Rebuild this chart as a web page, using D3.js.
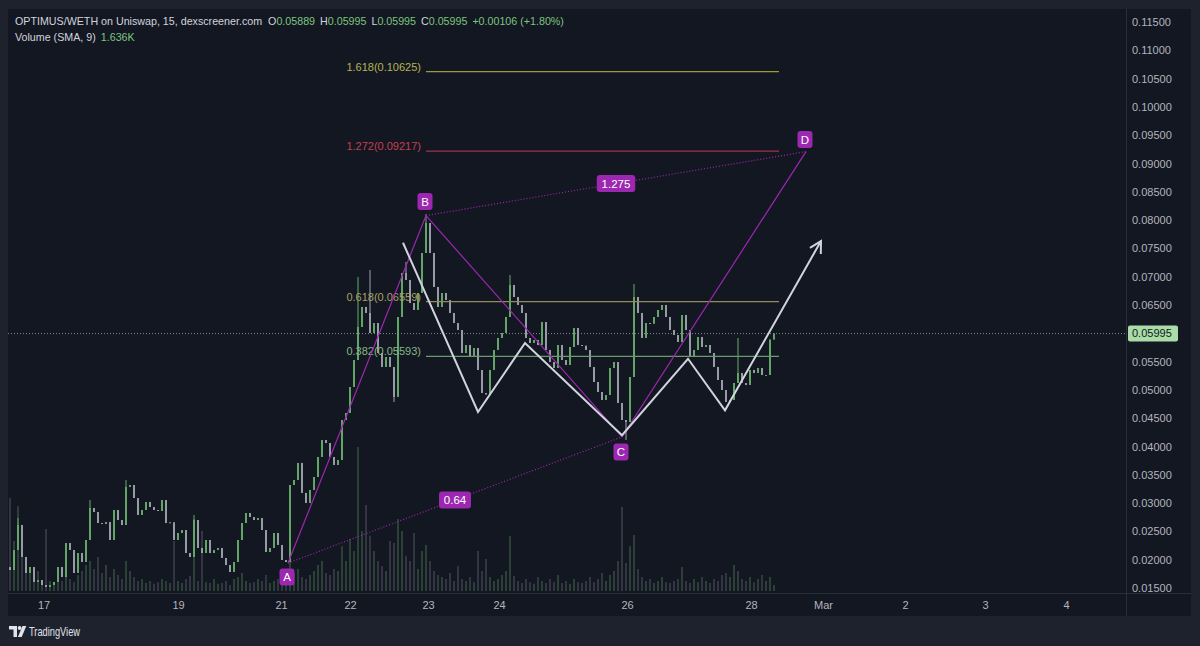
<!DOCTYPE html>
<html><head><meta charset="utf-8">
<script src="https://cdn.jsdelivr.net/npm/d3@7"></script>
<style>body{margin:0;background:#1e222d;overflow:hidden}svg{display:block}</style>
</head><body>
<svg id="c" width="1200" height="646"></svg>
<script>
// ---------- DATA ----------
const firstOpen = 0.01870;
const closes = [0.01818,0.02171,0.02613,0.02048,0.01765,0.01871,0.01606,0.01641,0.01553,0.01518,
 0.01553,0.01606,0.01871,0.01694,0.02295,0.02171,0.01765,0.02118,0.01959,0.02348,
 0.02913,0.02843,0.02648,0.02630,0.02666,0.02348,0.02878,0.02701,0.02613,0.03285,
 0.03320,0.03090,0.02790,0.02878,0.03020,0.02931,0.02878,0.02860,0.03055,0.02648,
 0.02660,0.02348,0.02472,0.02525,0.02118,0.02048,0.02701,0.02207,0.02118,0.02348,
 0.02118,0.02171,0.02207,0.02030,0.01906,0.01783,0.01959,0.02348,0.02648,0.02825,
 0.02754,0.02701,0.02737,0.02525,0.02136,0.02207,0.02472,0.02260,0.01995,0.01959,
 0.03320,0.03408,0.03709,0.03179,0.03002,0.03232,0.03461,0.03815,0.04115,0.04062,
 0.03815,0.03673,0.03762,0.04468,0.04592,0.05051,0.05528,0.06111,0.06465,0.06359,
 0.06005,0.06182,0.05652,0.05405,0.05581,0.05405,0.04875,0.06288,0.07065,0.06942,
 0.06535,0.06412,0.06712,0.07419,0.07949,0.07419,0.06818,0.06465,0.06712,0.06588,
 0.06359,0.06182,0.06058,0.05652,0.05793,0.05581,0.05740,0.05352,0.04945,0.04920,
 0.05352,0.05705,0.05917,0.06005,0.06288,0.06853,0.06641,0.06500,0.06359,0.05917,
 0.05829,0.05882,0.05793,0.06200,0.05705,0.05493,0.05387,0.05793,0.05528,0.05440,
 0.05758,0.06094,0.05793,0.05780,0.05705,0.05405,0.05140,0.04963,0.04822,0.04910,
 0.05387,0.05493,0.04769,0.04468,0.04433,0.05228,0.06641,0.06359,0.05917,0.06182,
 0.06170,0.06288,0.06412,0.06500,0.06288,0.06058,0.05970,0.05846,0.06323,0.06058,
 0.05581,0.05705,0.05935,0.05758,0.05793,0.05652,0.05405,0.05175,0.04998,0.04786,
 0.04822,0.05122,0.05299,0.05122,0.05087,0.05352,0.05299,0.05387,0.05263,0.05263,
 0.05889,0.05995];
const volumes = [23.3,12.5,21.2,8.8,6.2,4.5,3,5,2.5,15.5,
 2.5,2,3.5,2.5,4.5,3,2.2,4,5,6.5,
 7.5,5.5,8.5,4.5,6.5,3.5,5.5,4,3,7.5,
 5,3.5,2.5,3,2,2.5,1.8,2.2,3,2.5,
 2,12.5,2.5,2,3,3.8,18,2.5,15,2.2,
 2,3,1.8,2,2.5,1.5,3,3.5,4.5,2.5,
 2,2.2,3,2.5,4,2,2.5,3,2.2,3.5,
 7.5,4.5,5.5,3.5,3,4,5,6.5,7.5,4.5,
 4,5.5,5,11.2,7.5,13,10,36,15,21.5,
 13.8,10,7.5,6.2,5,12.5,12,18,15,8.8,
 7.5,14.5,5.5,10,11.5,7.5,5,4,3.5,3,
 4.5,2.5,6.2,3,2.5,3.5,2.2,10,5,8,
 3.5,2.5,3,4,5,13.8,3.8,2.5,2,3,
 2.2,1.8,3.5,2.5,2,3,2.2,4,2,2.5,
 1.8,3,2.2,2,2.5,3.5,2.2,3,4.5,2.5,
 4,5,7.5,21,7,11.2,14,5.5,3.5,2.5,
 3,2,2.5,3.5,2.2,2,2.5,3,6,2.5,
 2,3,2.2,3.5,2.5,2,3,2.5,4,4.5,
 3.5,6.5,5,3,2.5,3.5,2.2,3,4,2.5,
 3.5,1.5];
const wickIdx  = [2,20,29,46,87,90,96,99,104,125,154,156,182];
const wickHigh = [0.02737,0.03055,0.03408,0.02790,0.06995,0.07118,null,0.07260,0.08108,0.07030,null,0.06871,0.05917];
const wickLow  = [null,null,null,null,null,null,0.04786,null,null,null,0.04115,null,null];

const priceTicks = [0.115,0.11,0.105,0.10,0.095,0.09,0.085,0.08,0.075,0.07,0.065,0.055,0.05,0.045,0.04,0.035,0.03,0.025,0.02,0.015];
const dayLabels = ["17","19","21","22","23","24","26","28","Mar","2","3","4"];
const dayIdx    = [8.4,42,67.75,85,104.5,122.25,154.25,185.25,203.25,223.75,243.75,264];
const lastIndex = 279;   // right edge of visible bar space (incl. empty future bars)

const fibLabels = ["1.618(0.10625)","1.272(0.09217)","0.618(0.06559)","0.382(0.05593)"];
const fibPrices = [0.10625,0.09217,0.06559,0.05593];
const fibStartIdx = 104, fibEndIdx = 192.25;

const patternNames = ["A","B","C","D"];
const patternIdx   = [69.5,104,153,199];
const patternPrice = [0.0194,0.0808,0.0417,0.0921];
const ratioLabels  = ["0.64","1.275"];   // A->C, B->D

const zigIdx   = [98.25,117,128.75,153,169.5,178.75,202.75];
const zigPrice = [0.0760,0.0461,0.0583,0.0420,0.0555,0.0464,0.0763];

const lastPrice = 0.05995;
const symbolTitle = "OPTIMUS/WETH on Uniswap, 15, dexscreener.com";
const ohlcKeys = ["O","H","L","C"];
const ohlcVals = ["0.05889","0.05995","0.05995","0.05995"];
const changeText = "+0.00106 (+1.80%)";
const volTitle = "Volume (SMA, 9)";
const volValue = "1.636K";

// ---------- LAYOUT ----------
const W=1200,H=646;
const panel = {l:8,t:9,r:1191,b:616};
const plot = {l:8,t:9,r:1126,b:593};
const FONT = "'Liberation Sans', Arial, sans-serif";
const C = {bg:"#131722",outer:"#1e222d",sep:"#2a2e39",axisText:"#b2b5be",up:"#66ad6b",down:"#9ea3ab",
  volUp:"#34503d",volDown:"#3c424b",purple:"#9c27b0",white:"#d1d4dc",legend:"#d1d4dc",green:"#7cc47f"};
const fibColors = ["#9b9a35","#a3334a","#8f8d52","#6b9a6b"];
const fibText   = ["#b5b352","#c2404f","#a9a162","#82b882"];

const svg = d3.select("#c");
svg.append("rect").attr("width",W).attr("height",H).attr("fill",C.outer);
svg.append("rect").attr("x",panel.l).attr("y",panel.t).attr("width",panel.r-panel.l).attr("height",panel.b-panel.t).attr("fill",C.bg);

const x = d3.scaleLinear().domain([0,lastIndex]).range([10,1126]);
const y = d3.scaleLinear().domain([0.015,0.115]).range([588,22]);
const vy = d3.scaleLinear().domain([0,40]).range([591,431]);

svg.append("clipPath").attr("id","clip").append("rect")
  .attr("x",plot.l).attr("y",plot.t).attr("width",plot.r-plot.l).attr("height",plot.b-plot.t);
const g = svg.append("g").attr("clip-path","url(#clip)");

const candles = closes.map((c,i)=>{
  const o = i===0 ? firstOpen : closes[i-1];
  let h=Math.max(o,c), l=Math.min(o,c);
  const k = wickIdx.indexOf(i);
  if(k>=0){ if(wickHigh[k]!=null) h=Math.max(h,wickHigh[k]); if(wickLow[k]!=null) l=Math.min(l,wickLow[k]); }
  return {i,o,h,l,c,v:volumes[i],up:c>=o};
});

// volume
g.append("g").selectAll("rect").data(candles).join("rect")
  .attr("x",d=>x(d.i)-0.75).attr("width",1.5)
  .attr("y",d=>vy(d.v)).attr("height",d=>vy(0)-vy(d.v))
  .attr("fill",d=>d.up?C.volUp:C.volDown);

// last price dotted line
g.append("line").attr("x1",plot.l).attr("x2",plot.r).attr("y1",y(lastPrice)).attr("y2",y(lastPrice))
  .attr("stroke","#868993").attr("stroke-width",1).attr("stroke-dasharray","1,2");

// candles
const cg = g.append("g");
cg.selectAll("line").data(candles).join("line")
  .attr("x1",d=>x(d.i)).attr("x2",d=>x(d.i)).attr("y1",d=>y(d.h)).attr("y2",d=>y(d.l))
  .attr("stroke",d=>d.up?C.up:C.down).attr("stroke-width",1);
cg.selectAll("rect").data(candles).join("rect")
  .attr("x",d=>x(d.i)-0.9).attr("width",1.8)
  .attr("y",d=>y(Math.max(d.o,d.c))).attr("height",d=>Math.max(1,Math.abs(y(d.o)-y(d.c))))
  .attr("fill",d=>d.up?C.up:C.down);

// fib lines
fibPrices.forEach((p,k)=>{
  g.append("line").attr("x1",x(fibStartIdx)).attr("x2",x(fibEndIdx)).attr("y1",y(p)).attr("y2",y(p))
   .attr("stroke",fibColors[k]).attr("stroke-width",1.2);
  g.append("text").attr("x",x(fibStartIdx)-5).attr("y",y(p)-1).attr("text-anchor","end")
   .attr("font-family",FONT).attr("font-size",11).attr("fill",fibText[k]).text(fibLabels[k]);
});

// purple pattern
const P = patternIdx.map((d,k)=>[x(d),y(patternPrice[k])]);
g.append("path").attr("d",d3.line()(P)).attr("fill","none").attr("stroke",C.purple).attr("stroke-width",1.2);
[[0,2],[1,3]].forEach(([a,b])=>{
  g.append("line").attr("x1",P[a][0]).attr("y1",P[a][1]).attr("x2",P[b][0]).attr("y2",P[b][1])
   .attr("stroke",C.purple).attr("stroke-width",1.2).attr("stroke-dasharray","1,2");
});

// white zigzag with arrow
const Z = zigIdx.map((d,k)=>[x(d),y(zigPrice[k])]);
g.append("path").attr("d",d3.line()(Z)).attr("fill","none").attr("stroke",C.white).attr("stroke-width",2).attr("stroke-linejoin","miter");
{
  const a=Z[Z.length-2], b=Z[Z.length-1];
  const ang=Math.atan2(b[1]-a[1],b[0]-a[0]), L=13, sp=0.5;
  const p1=[b[0]-L*Math.cos(ang-sp), b[1]-L*Math.sin(ang-sp)];
  const p2=[b[0]-L*Math.cos(ang+sp), b[1]-L*Math.sin(ang+sp)];
  g.append("path").attr("d",d3.line()([p1,b,p2])).attr("fill","none").attr("stroke",C.white).attr("stroke-width",2);
}

// ratio labels
function tag(cx,cy,txt,w){
  g.append("rect").attr("x",cx-w/2).attr("y",cy-8.5).attr("width",w).attr("height",17).attr("rx",3).attr("fill",C.purple);
  g.append("text").attr("x",cx).attr("y",cy).attr("dy","0.35em").attr("text-anchor","middle")
   .attr("font-family",FONT).attr("font-size",11.5).attr("fill","#ffffff").text(txt);
}
[[0,2],[1,3]].forEach(([a,b],k)=>{
  tag((P[a][0]+P[b][0])/2,(P[a][1]+P[b][1])/2, ratioLabels[k], ratioLabels[k].length*6.5+6);
});
const offs=[14,-14,15,-12];
P.forEach((p,k)=>tag(p[0]-1,p[1]+offs[k],patternNames[k],15));

// ---------- AXES ----------
svg.append("line").attr("x1",plot.r+0.5).attr("x2",plot.r+0.5).attr("y1",panel.t).attr("y2",panel.b).attr("stroke",C.sep);
svg.append("line").attr("x1",panel.l).attr("x2",panel.r).attr("y1",plot.b+0.5).attr("y2",plot.b+0.5).attr("stroke",C.sep);

const ya = svg.append("g").attr("transform",`translate(${plot.r},0)`)
  .call(d3.axisRight(y).tickValues(priceTicks).tickFormat(d3.format(".5f")).tickSize(0).tickPadding(6));
ya.select(".domain").remove();
ya.selectAll("text").attr("fill",C.axisText).attr("font-family",FONT).attr("font-size",11);

const xa = svg.append("g").attr("transform",`translate(0,${plot.b})`)
  .call(d3.axisBottom(x).tickValues(dayIdx).tickFormat((d,i)=>dayLabels[i]).tickSize(0).tickPadding(8));
xa.select(".domain").remove();
xa.selectAll("text").attr("fill",C.axisText).attr("font-family",FONT).attr("font-size",11);

// last price label
svg.append("rect").attr("x",plot.r+2).attr("y",y(lastPrice)-8).attr("width",50).attr("height",16).attr("rx",2).attr("fill","#a9dca7");
svg.append("text").attr("x",plot.r+6).attr("y",y(lastPrice)).attr("dy","0.35em").attr("font-family",FONT)
  .attr("font-size",11).attr("fill","#131722").text(d3.format(".5f")(lastPrice));

// ---------- LEGEND ----------
const lg = svg.append("text").attr("x",15).attr("y",25).attr("font-family",FONT).attr("font-size",10.7).attr("fill",C.legend);
lg.append("tspan").text(symbolTitle);
ohlcKeys.forEach((k,i)=>{
  lg.append("tspan").attr("dx",i===0?6:5).text(k);
  lg.append("tspan").attr("fill",C.green).text(ohlcVals[i]);
});
lg.append("tspan").attr("dx",5).attr("fill",C.green).text(changeText);
const lg2 = svg.append("text").attr("x",15).attr("y",41).attr("font-family",FONT).attr("font-size",10.7).attr("fill",C.legend);
lg2.append("tspan").text(volTitle);
lg2.append("tspan").attr("dx",5).attr("fill",C.green).text(volValue);

// ---------- WATERMARK ----------
const wm = svg.append("g").attr("fill","#e0e3eb");
wm.append("path").attr("d","M9,626 h8 v11 h-3.5 v-7.5 h-4.5 z");
wm.append("circle").attr("cx",19.6).attr("cy",628).attr("r",1.9);
wm.append("path").attr("d","M22.5,626 h3.8 l-4.6,11 h-3.8 z");
svg.append("text").attr("x",29).attr("y",636).attr("font-family",FONT).attr("font-size",12)
  .attr("textLength",51).attr("lengthAdjust","spacingAndGlyphs").attr("fill","#e0e3eb").text("TradingView");
</script>
</body></html>
